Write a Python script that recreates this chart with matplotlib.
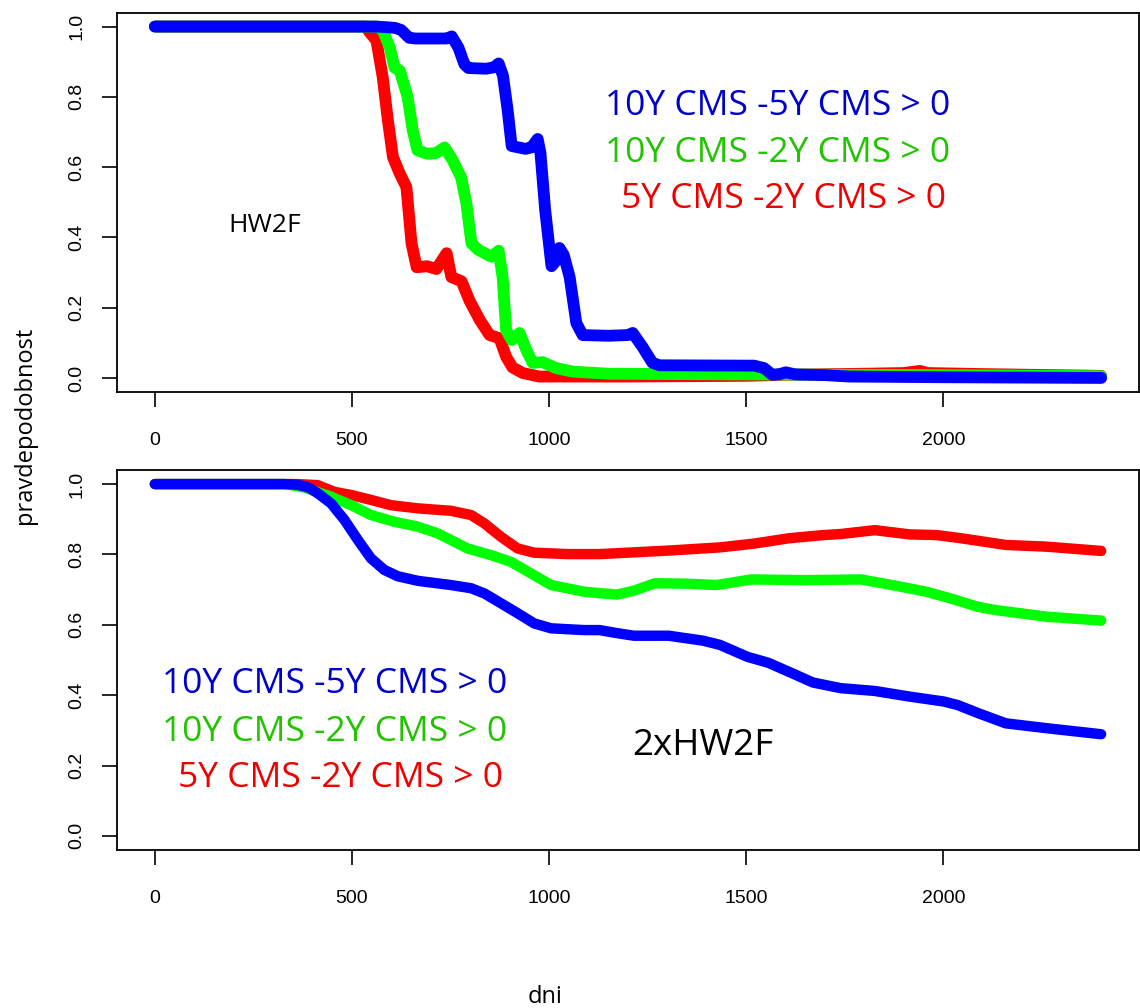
import matplotlib
matplotlib.use("Agg")
import matplotlib.pyplot as plt

# ---------------- data: top panel (HW2F) ----------------
top_blue_x = [0, 560, 590, 610, 625, 645, 660, 740, 753, 770, 785, 795, 840, 860, 872,
              883, 895, 905, 940, 955, 971, 978, 990, 1006, 1015, 1026, 1037, 1052, 1069,
              1085, 1150, 1200, 1212, 1237, 1262, 1280, 1520, 1545, 1566, 1585, 1600, 1625,
              1700, 1760, 2000, 2400]
top_blue_y = [1.0, 1.0, 0.998, 0.996, 0.99, 0.968, 0.966, 0.966, 0.972, 0.94, 0.893, 0.882,
              0.88, 0.884, 0.895, 0.86, 0.76, 0.66, 0.652, 0.656, 0.68, 0.64, 0.477, 0.318,
              0.33, 0.37, 0.35, 0.287, 0.156, 0.122, 0.12, 0.122, 0.128, 0.088, 0.043,
              0.036, 0.035, 0.028, 0.009, 0.011, 0.016, 0.01, 0.008, 0.004, 0.002, 0.0]

top_green_x = [0, 565, 578, 596, 608, 621, 641, 654, 666, 690, 713, 735, 755, 777, 790,
               803, 820, 853, 872, 882, 891, 905, 925, 942, 958, 983, 1018, 1060, 1150,
               1500, 2000, 2400]
top_green_y = [1.0, 1.0, 0.99, 0.94, 0.883, 0.875, 0.80, 0.705, 0.648, 0.638, 0.64, 0.656,
               0.62, 0.57, 0.497, 0.383, 0.365, 0.345, 0.362, 0.287, 0.136, 0.108, 0.128,
               0.08, 0.043, 0.045, 0.028, 0.018, 0.012, 0.01, 0.008, 0.005]

top_red_x = [0, 535, 545, 562, 578, 591, 604, 621, 638, 651, 664, 690, 714, 740, 752, 778,
             798, 824, 849, 874, 891, 907, 933, 975, 1200, 1500, 1600, 1800, 1900, 1940,
             1960, 2100, 2400]
top_red_y = [1.0, 1.0, 0.983, 0.96, 0.855, 0.733, 0.628, 0.582, 0.543, 0.383, 0.315, 0.318,
             0.31, 0.355, 0.287, 0.275, 0.22, 0.165, 0.122, 0.113, 0.06, 0.03, 0.014, 0.004,
             0.004, 0.006, 0.009, 0.012, 0.014, 0.02, 0.014, 0.011, 0.006]

# ---------------- data: bottom panel (2xHW2F) ----------------
bot_blue_x = [0, 330, 362, 390, 413, 447, 481, 515, 548, 582, 616, 667, 751, 802, 836, 878,
              920, 962, 1005, 1089, 1128, 1174, 1215, 1303, 1390, 1433, 1503, 1556, 1617,
              1669, 1739, 1826, 1914, 2001, 2036, 2088, 2158, 2263, 2400]
bot_blue_y = [1.0, 1.0, 0.998, 0.99, 0.974, 0.945, 0.898, 0.841, 0.789, 0.756, 0.738, 0.725,
              0.713, 0.704, 0.689, 0.661, 0.633, 0.604, 0.590, 0.585, 0.585, 0.576, 0.569,
              0.569, 0.555, 0.543, 0.509, 0.492, 0.462, 0.436, 0.42, 0.412, 0.396, 0.382,
              0.372, 0.349, 0.320, 0.306, 0.289]

bot_green_x = [0, 330, 380, 447, 498, 548, 607, 667, 717, 751, 793, 853, 903, 954, 1005,
               1089, 1128, 1172, 1215, 1268, 1346, 1425, 1512, 1652, 1791, 1870, 1957,
               2018, 2088, 2132, 2263, 2400]
bot_green_y = [1.0, 1.0, 0.99, 0.964, 0.940, 0.912, 0.893, 0.879, 0.860, 0.841, 0.817,
               0.798, 0.779, 0.746, 0.713, 0.694, 0.69, 0.686, 0.697, 0.718, 0.717, 0.713,
               0.729, 0.727, 0.729, 0.713, 0.694, 0.675, 0.651, 0.642, 0.623, 0.612]

bot_red_x = [0, 330, 362, 413, 455, 498, 548, 599, 667, 751, 802, 836, 878, 920, 962,
             1047, 1128, 1303, 1433, 1521, 1608, 1695, 1739, 1826, 1914, 1983, 2045,
             2158, 2263, 2400]
bot_red_y = [1.0, 1.0, 1.0, 0.997, 0.978, 0.969, 0.955, 0.940, 0.931, 0.924, 0.912,
             0.888, 0.850, 0.817, 0.805, 0.801, 0.801, 0.811, 0.820, 0.831, 0.846, 0.855,
             0.858, 0.869, 0.857, 0.855, 0.846, 0.827, 0.822, 0.810]

legend_labels = ["10Y CMS -5Y CMS > 0", "10Y CMS -2Y CMS > 0", "5Y CMS -2Y CMS > 0"]
x_ticks = [0, 500, 1000, 1500, 2000]
y_ticks = [0.0, 0.2, 0.4, 0.6, 0.8, 1.0]
y_tick_labels = ["0.0", "0.2", "0.4", "0.6", "0.8", "1.0"]

# ---------------- styling ----------------
LINE_COL = {"blue": "#0000FF", "green": "#00FF00", "red": "#FF0000"}
TEXT_COL = {"blue": "#0000CC", "green": "#22C400", "red": "#EE0000"}
W, H = 1140, 1008

fig = plt.figure(figsize=(W / 100, H / 100), dpi=100)
ax1 = fig.add_axes([117 / W, 1 - 392 / H, (1139 - 117) / W, (392 - 12.5) / H])
ax2 = fig.add_axes([117 / W, 1 - 850 / H, (1139 - 117) / W, (850 - 470) / H])


def style(ax):
    ax.set_xlim(-96, 2496)
    ax.set_ylim(-0.04, 1.04)
    ax.set_xticks(x_ticks)
    ax.set_xticklabels([str(v) for v in x_ticks], family="Liberation Sans", fontsize=14)
    ax.set_yticks(y_ticks)
    ax.set_yticklabels(y_tick_labels, family="Liberation Sans", fontsize=14,
                       rotation=90, va="center")
    ax.tick_params(axis="x", length=11, width=1.2, pad=18, direction="out")
    ax.tick_params(axis="y", length=11, width=1.2, pad=12, direction="out")
    for s in ax.spines.values():
        s.set_linewidth(1.3)
        s.set_color("black")


def draw(ax, series, lw):
    for xs, ys, c in series:
        ax.plot(xs, ys, color=LINE_COL[c], lw=lw, solid_capstyle="round",
                solid_joinstyle="round")


draw(ax1, [(top_red_x, top_red_y, "red"), (top_green_x, top_green_y, "green"),
           (top_blue_x, top_blue_y, "blue")], 8.5)
draw(ax2, [(bot_red_x, bot_red_y, "red"), (bot_green_x, bot_green_y, "green"),
           (bot_blue_x, bot_blue_y, "blue")], 7.5)
style(ax1)
style(ax2)

# legends as text
leg_font = dict(family="Open Sans", fontsize=25.5, ha="center", va="baseline")
top_leg_x = [1580, 1580, 1595]
top_leg_y = [0.747, 0.614, 0.483]
bot_leg_x = [456, 456, 470]
bot_leg_y = [0.406, 0.270, 0.139]
for lab, c, xx, yy in zip(legend_labels, ["blue", "green", "red"], top_leg_x, top_leg_y):
    ax1.text(xx, yy, lab, color=TEXT_COL[c], **leg_font)
for lab, c, xx, yy in zip(legend_labels, ["blue", "green", "red"], bot_leg_x, bot_leg_y):
    ax2.text(xx, yy, lab, color=TEXT_COL[c], **leg_font)

ax1.text(279, 0.415, "HW2F", family="Open Sans", fontsize=19, ha="center", va="baseline")
ax2.text(1389, 0.230, "2xHW2F", family="Open Sans", fontsize=26.5, ha="center", va="baseline")

fig.text(545 / W, 1 - 997 / H, "dni", family="Open Sans", fontsize=17,
         ha="center", va="center")
fig.text(25 / W, 1 - 425 / H, "pravdepodobnost", family="Open Sans", fontsize=17,
         rotation=90, ha="center", va="center")

fig.savefig("out.png", dpi=100)
